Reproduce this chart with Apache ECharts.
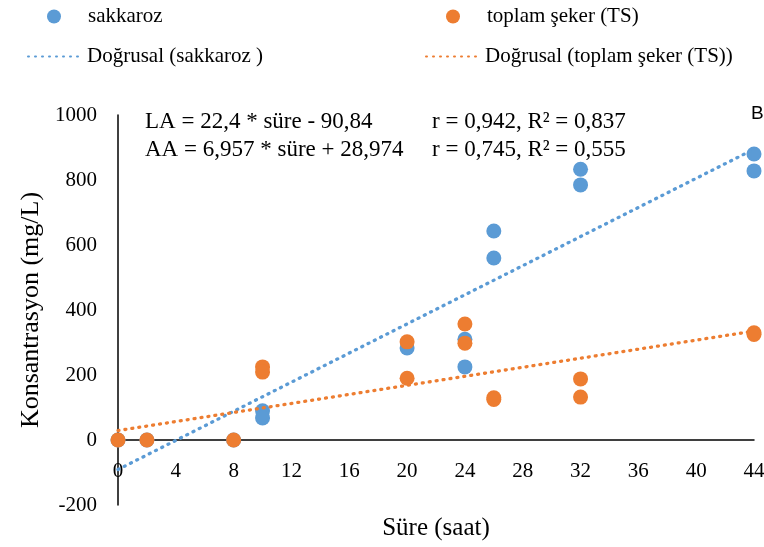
<!DOCTYPE html>
<html>
<head>
<meta charset="utf-8">
<script src="https://cdn.jsdelivr.net/npm/echarts@6/dist/echarts.min.js"></script>
<style>
  html, body { margin: 0; padding: 0; background: #fff; }
  #chart { width: 764px; height: 547px; }
</style>
</head>
<body>
<div id="chart"></div>
<script>
// ölçüm verileri (süre saat, konsantrasyon mg/L)
const sakkarozTime = [0, 2, 8, 10, 10, 20, 24, 24, 26, 26, 32, 32, 44, 44]
const sakkarozVal  = [0, 0, 0, 90, 68, 283, 310, 225, 643, 560, 833, 785, 880, 828]
const tsTime = [0, 2, 8, 10, 10, 20, 20, 24, 24, 26, 26, 32, 32, 44, 44]
const tsVal  = [0, 0, 0, 225, 209, 302, 190, 357, 298, 130, 125, 188, 132, 330, 325]

// doğrusal eğilim çizgilerinin uç noktaları (denklemlerden)
const trendTime = [0, 44]
const sakkarozTrend = [-90.84, 894.76]
const tsTrend = [28.974, 335.08]

const xTicks = { min: 0, max: 44, interval: 4 }
const yTicks = { min: -200, max: 1000, interval: 200 }

const seriesNames = ['sakkaroz', 'toplam şeker (TS)', 'Doğrusal (sakkaroz )', 'Doğrusal (toplam şeker (TS))']
const eqLines = [
  ['LA = 22,4 * süre - 90,84', 'r = 0,942, R² = 0,837'],
  ['AA = 6,957 * süre + 28,974', 'r = 0,745, R² = 0,555']
]

const blue = '#5B9BD5'
const orange = '#ED7D31'
const serif = 'Liberation Serif'

const pair = (xs, ys) => xs.map((x, i) => [x, ys[i]])

const chart = echarts.init(document.getElementById('chart'))

const legendText = { fontFamily: serif, fontSize: 21, color: '#000' }
const legends = [
  { name: seriesNames[0], left: 47, top: 6, itemWidth: 14, pad: 22, hideSymbol: false },
  { name: seriesNames[1], left: 446, top: 6, itemWidth: 14, pad: 22, hideSymbol: false },
  { name: seriesNames[2], left: 27, top: 46, itemWidth: 51, pad: 3, hideSymbol: true },
  { name: seriesNames[3], left: 425, top: 46, itemWidth: 51, pad: 3, hideSymbol: true }
].map(l => ({
  data: [l.name],
  left: l.left,
  top: l.top,
  padding: 0,
  itemWidth: l.itemWidth,
  itemHeight: 14,
  selectedMode: false,
  itemStyle: l.hideSymbol ? { opacity: 0 } : {},
  textStyle: Object.assign({ padding: [0, 0, 0, l.pad] }, legendText)
}))

// x ekseni y=0 hizasında: ızgara altından 0'a kadar olan mesafe kadar yukarı kaydır
const gridTop = 115, gridBottom = 42, gridH = 547 - gridTop - gridBottom
const zeroOffset = gridH * (0 - yTicks.min) / (yTicks.max - yTicks.min)

const option = {
  backgroundColor: '#fff',
  animation: false,
  legend: legends,
  grid: { left: 118, right: 10, top: gridTop, bottom: gridBottom, outerBoundsMode: 'none', containLabel: false },
  xAxis: {
    type: 'value',
    min: xTicks.min,
    max: xTicks.max,
    interval: xTicks.interval,
    offset: -zeroOffset,
    name: 'Süre (saat)',
    nameLocation: 'middle',
    nameGap: 76,
    nameTextStyle: { fontFamily: serif, fontSize: 25, color: '#000' },
    axisLine: { onZero: false, lineStyle: { color: '#000', width: 1.5 } },
    axisTick: { show: false },
    splitLine: { show: false },
    axisLabel: { fontFamily: serif, fontSize: 21, color: '#000', margin: 21 }
  },
  yAxis: {
    type: 'value',
    min: yTicks.min,
    max: yTicks.max,
    interval: yTicks.interval,
    name: 'Konsantrasyon (mg/L)',
    nameLocation: 'middle',
    nameGap: 73,
    nameTextStyle: { fontFamily: serif, fontSize: 26, color: '#000' },
    axisLine: { show: true, onZero: false, lineStyle: { color: '#000', width: 1.5 } },
    axisTick: { show: false },
    splitLine: { show: false },
    axisLabel: { fontFamily: serif, fontSize: 21, color: '#000', margin: 21, formatter: v => String(v) }
  },
  series: [
    {
      name: seriesNames[0],
      type: 'scatter',
      symbolSize: 15,
      itemStyle: { color: blue, opacity: 1 },
      data: pair(sakkarozTime, sakkarozVal),
      z: 2
    },
    {
      name: seriesNames[1],
      type: 'scatter',
      symbolSize: 15,
      itemStyle: { color: orange, opacity: 1 },
      data: pair(tsTime, tsVal),
      z: 3
    },
    {
      name: seriesNames[2],
      type: 'line',
      symbol: 'none',
      lineStyle: { color: blue, width: 3.3, type: [1, 6], cap: 'round' },
      itemStyle: { color: blue },
      data: pair(trendTime, sakkarozTrend),
      z: 4
    },
    {
      name: seriesNames[3],
      type: 'line',
      symbol: 'none',
      lineStyle: { color: orange, width: 3.3, type: [1, 6], cap: 'round' },
      itemStyle: { color: orange },
      data: pair(trendTime, tsTrend),
      z: 4
    }
  ],
  graphic: [
    {
      type: 'text', left: 145, top: 108,
      style: { text: eqLines[0][0] + '\n' + eqLines[1][0], font: '23px "Liberation Serif"', fill: '#000', lineHeight: 28 }
    },
    {
      type: 'text', left: 432, top: 108,
      style: { text: eqLines[0][1] + '\n' + eqLines[1][1], font: '23px "Liberation Serif"', fill: '#000', lineHeight: 28 }
    },
    {
      type: 'text', left: 751, top: 104,
      style: { text: 'B', font: '19px "Liberation Sans"', fill: '#000' }
    }
  ]
}

chart.setOption(option)
</script>
</body>
</html>
